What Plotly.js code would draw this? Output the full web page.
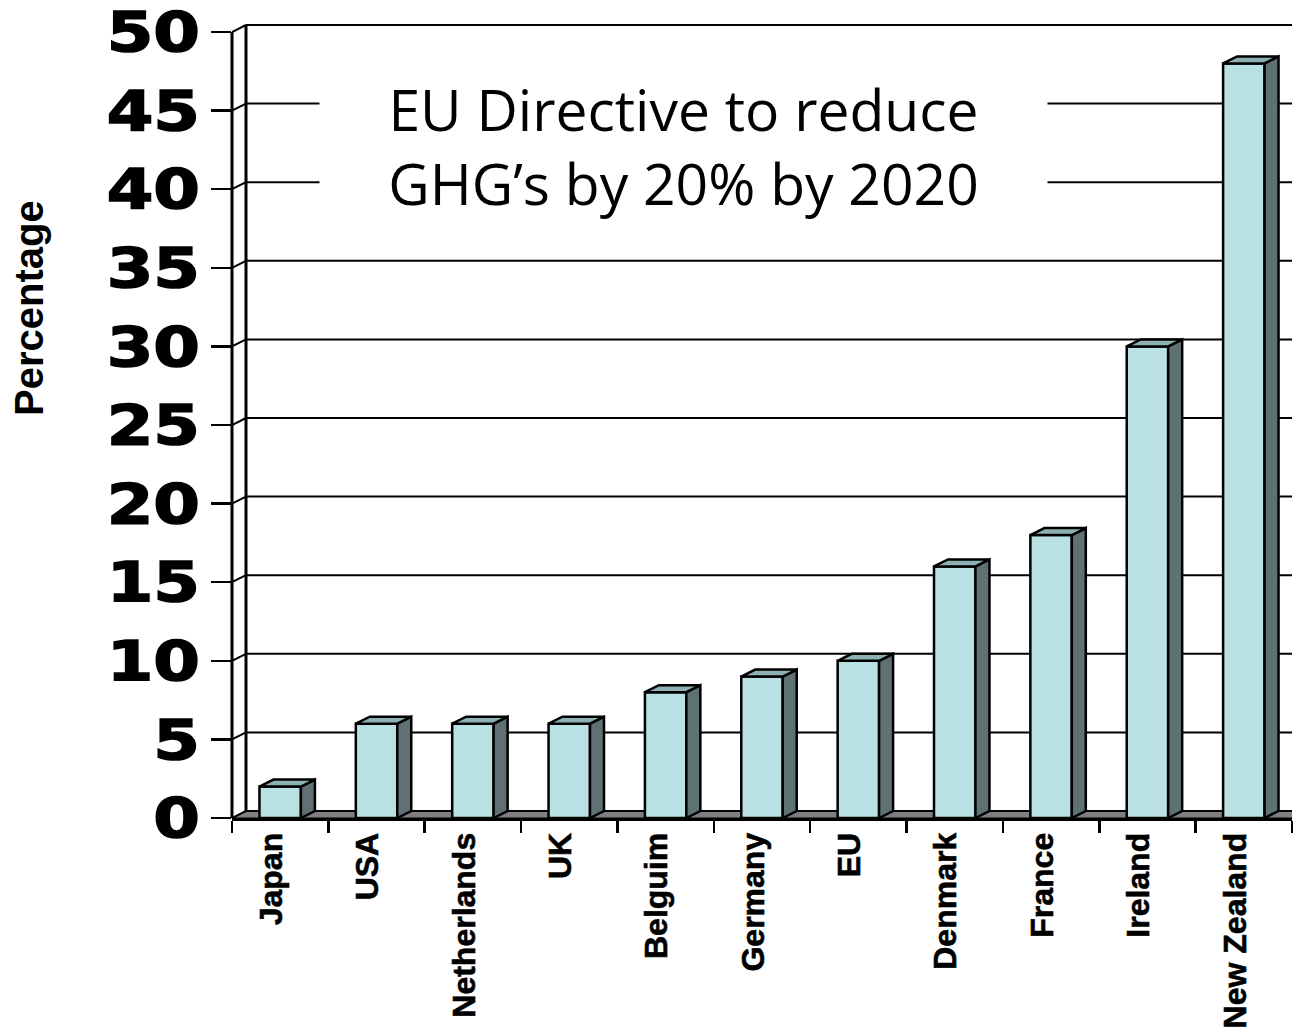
<!DOCTYPE html>
<html>
<head>
<meta charset="utf-8">
<script src="https://cdn.plot.ly/plotly-3.0.1.min.js"></script>
<style>
  html, body { margin: 0; padding: 0; background: #ffffff; overflow: hidden; }
  #chart { width: 1293px; height: 1031px; }
</style>
</head>
<body>
<div id="chart"></div>
<script>
// Reduction targets for greenhouse gases, by country (percent)
const countries = ['Japan', 'USA', 'Netherlands', 'UK', 'Belguim', 'Germany', 'EU',
                   'Denmark', 'France', 'Ireland', 'New Zealand'];
const targets = [2, 6, 6, 6, 8, 9, 10, 16, 18, 30, 48];
const yTicks = [0, 5, 10, 15, 20, 25, 30, 35, 40, 45, 50];
const titleLines = ['EU Directive to reduce', 'GHG’s by 20% by 2020'];
const yTitle = 'Percentage';

// Page and plot-area geometry (pixels)
const W = 1293, H = 1031;
const M = { l: 232, r: 1, t: 18, b: 213 };
const plotW = W - M.l - M.r;
const plotH = H - M.t - M.b;
const HEADROOM = 14;          // room above the top tick for the back wall
const DEPTH_X = 14;           // 3-D depth offset, horizontal
const DEPTH_Y = 7;            // 3-D depth offset, vertical
const BAR_W = 0.43;           // front face width, in category units
const LABEL_SHIFT = 0.09;     // category labels sit a little left of centre
const TICK_STRETCH = 1.22;    // widen the value labels horizontally

const yMaxTick = yTicks[yTicks.length - 1];
const unitPx = (plotH - HEADROOM) / yMaxTick;
const yTop = plotH / unitPx;
const catPx = plotW / countries.length;
const dx = DEPTH_X / catPx;   // depth in x data units
const dy = DEPTH_Y / unitPx;  // depth in y data units

const xs = countries.map((_, i) => i);
const xLo = -0.5, xHi = countries.length - 0.5;

const FRONT = '#b9e0e3';
const SIDE = '#5f7172';
const TOP = '#8fb0b2';
const FLOOR = '#808080';
const EDGE = '#000000';

const px2paperX = px => (px - M.l) / plotW;
const px2paperY = py => (H - M.b - py) / plotH;

const shapes = [];

// floor of the box
shapes.push({
  type: 'path', xref: 'x', yref: 'y', layer: 'below',
  path: `M${xLo},0 L${xHi},0 L${xHi + dx},${dy} L${xLo + dx},${dy} Z`,
  fillcolor: FLOOR, line: { color: EDGE, width: 1 }
});

// gridlines on the back wall, plus the short diagonals joining the front ticks
yTicks.forEach(v => {
  shapes.push({
    type: 'line', xref: 'x', yref: 'y', layer: 'below',
    x0: xLo + dx, x1: xHi + 1, y0: v + dy, y1: v + dy,
    line: { color: EDGE, width: 2 }
  });
  shapes.push({
    type: 'line', xref: 'x', yref: 'y', layer: 'below',
    x0: xLo, x1: xLo + dx, y0: v, y1: v + dy,
    line: { color: EDGE, width: 2 }
  });
});

// back wall edge
shapes.push({
  type: 'line', xref: 'x', yref: 'y', layer: 'below',
  x0: xLo + dx, x1: xLo + dx, y0: dy, y1: yMaxTick + dy,
  line: { color: EDGE, width: 3 }
});

// front value axis
shapes.push({
  type: 'line', xref: 'paper', yref: 'y', layer: 'above',
  x0: 0, x1: 0, y0: 0, y1: yMaxTick,
  line: { color: EDGE, width: 3 }
});

// side and top faces of each bar
xs.forEach((x, i) => {
  const v = targets[i];
  const l = x - BAR_W / 2, r = x + BAR_W / 2;
  shapes.push({
    type: 'path', xref: 'x', yref: 'y', layer: 'above',
    path: `M${r},0 L${r + dx},${dy} L${r + dx},${v + dy} L${r},${v} Z`,
    fillcolor: SIDE, line: { color: EDGE, width: 2.5 }
  });
  shapes.push({
    type: 'path', xref: 'x', yref: 'y', layer: 'above',
    path: `M${l},${v} L${l + dx},${v + dy} L${r + dx},${v + dy} L${r},${v} Z`,
    fillcolor: TOP, line: { color: EDGE, width: 2.5 }
  });
});

const bars = {
  type: 'bar',
  x: xs,
  y: targets,
  width: BAR_W,
  marker: { color: FRONT, line: { color: EDGE, width: 2.5 } },
  hoverinfo: 'x+y'
};

const layout = {
  width: W, height: H,
  margin: M,
  paper_bgcolor: '#ffffff',
  plot_bgcolor: 'rgba(0,0,0,0)',
  showlegend: false,
  bargap: 0,
  xaxis: {
    type: 'linear',
    range: [xLo, xHi],
    tickmode: 'array',
    tickvals: xs.map(x => x - LABEL_SHIFT),
    ticktext: countries,
    tickangle: -90,
    ticks: '',
    ticklabelstandoff: -1,
    tickfont: { family: 'Liberation Sans, Arial, sans-serif', size: 32, weight: 'bold', color: '#000' },
    showgrid: false, zeroline: false,
    showline: true, linecolor: EDGE, linewidth: 3,
    minor: { tick0: xLo, dtick: 1, ticks: 'outside', ticklen: 12, tickwidth: 2.5, tickcolor: EDGE, showgrid: false },
    fixedrange: true
  },
  yaxis: {
    range: [0, yTop],
    tickmode: 'array',
    tickvals: yTicks,
    ticktext: yTicks.map(String),
    ticks: 'outside', ticklen: 20, tickwidth: 2.5, tickcolor: EDGE,
    ticklabelstandoff: 0,
    tickfont: { family: 'DejaVu Sans, sans-serif', size: 55, weight: 'bold', color: '#000' },
    showgrid: false, zeroline: false, showline: false,
    fixedrange: true
  },
  shapes: shapes,
  annotations: [
    {
      xref: 'paper', yref: 'paper',
      x: px2paperX(683), y: px2paperY(146),
      xanchor: 'center', yanchor: 'middle',
      text: titleLines.join('<br>'),
      showarrow: false,
      align: 'center',
      bgcolor: '#ffffff',
      width: 725, height: 150,
      font: { family: 'Open Sans, sans-serif', size: 57, color: '#000' }
    },
    {
      xref: 'paper', yref: 'paper',
      x: px2paperX(29), y: px2paperY(308),
      xanchor: 'center', yanchor: 'middle',
      text: yTitle,
      textangle: -90,
      showarrow: false,
      font: { family: 'Liberation Sans, Arial, sans-serif', size: 40, weight: 'bold', color: '#000' }
    }
  ]
};

Plotly.newPlot('chart', [bars], layout, { displayModeBar: false, staticPlot: true }).then(gd => {
  // heavy, extended look for the value labels: stretch each one about its right edge
  gd.querySelectorAll('.ytick text').forEach(t => {
    const x = parseFloat(t.getAttribute('x')) || 0;
    const tr = t.getAttribute('transform') || '';
    t.setAttribute('transform', `${tr} translate(${x},0) scale(${TICK_STRETCH},1) translate(${-x},0)`);
    t.style.stroke = '#000';
    t.style.strokeWidth = '1.5px';
  });
  // slightly heavier category labels
  gd.querySelectorAll('.xtick text').forEach(t => {
    t.style.stroke = '#000';
    t.style.strokeWidth = '0.6px';
  });
});
</script>
</body>
</html>
